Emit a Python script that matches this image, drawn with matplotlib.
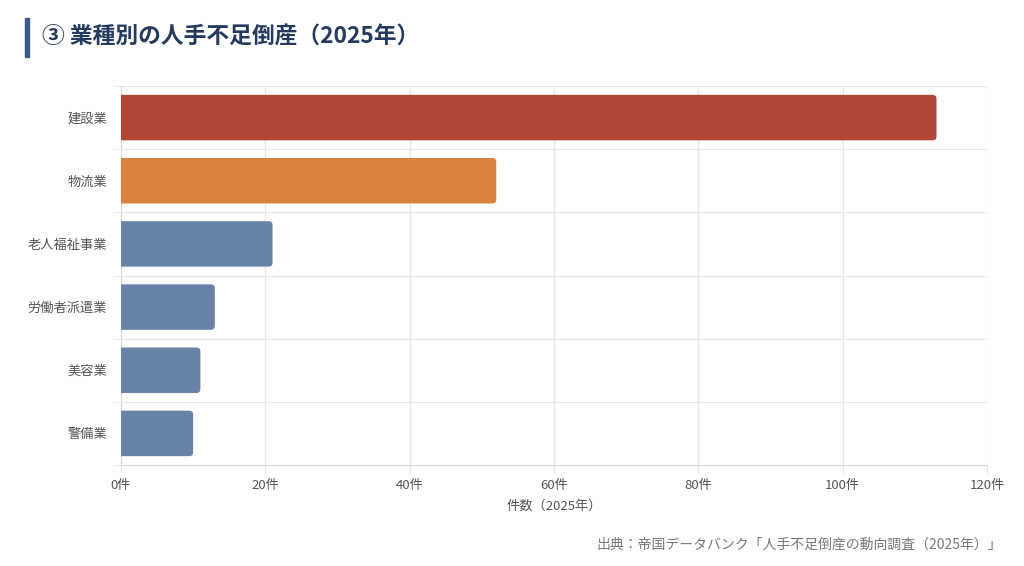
import matplotlib
matplotlib.use("Agg")
import matplotlib.pyplot as plt
from matplotlib.patches import FancyBboxPatch, Rectangle

plt.rcParams['font.family'] = ['Noto Sans CJK JP', 'DejaVu Sans']

categories = ["建設業", "物流業", "老人福祉事業", "労働者派遣業", "美容業", "警備業"]
values = [113, 52, 21, 13, 11, 10]
colors = ["#B34537", "#D8843E", "#6882A8", "#6882A8", "#6882A8", "#6882A8"]
xticks = [0, 20, 40, 60, 80, 100, 120]
xticklabels = ["0件", "20件", "40件", "60件", "80件", "100件", "120件"]
title = "③ 業種別の人手不足倒産（2025年）"
xlabel = "件数（2025年）"
source = "出典：帝国データバンク「人手不足倒産の動向調査（2025年）」"

fig = plt.figure(figsize=(10.24, 5.66), dpi=100)
ax = fig.add_axes([121/1024, 1-465/566, (987-121)/1024, (465-86)/566])

n = len(categories)
ypos = list(range(n))
bars = ax.barh(ypos, values, height=0.72, color=colors)
ax.set_xlim(0, 120)
ax.set_ylim(n - 0.5, -0.5)

# px per unit
px_x = (987-121)/120
px_y = (465-86)/n
aspect = px_x / px_y
for b, c in zip(bars, colors):
    b.set_visible(False)
    x0, y0 = b.get_x(), b.get_y()
    w, h = b.get_width(), b.get_height()
    r = 4 / px_x
    p = FancyBboxPatch((x0 - 2, y0), w + 2, h,
                       boxstyle=f"round,pad=0,rounding_size={r}",
                       mutation_aspect=aspect,
                       facecolor=c, edgecolor="none", zorder=3)
    ax.add_patch(p)

ax.set_xticks(xticks)
ax.set_xticklabels(xticklabels)
ax.set_yticks(ypos)
ax.set_yticklabels(categories)
ax.set_yticks([i - 0.5 for i in range(n + 1)], minor=True)
ax.grid(True, axis='x', color="#e6e6e6", linewidth=0.9, zorder=0)
ax.grid(True, axis='y', which='minor', color="#e6e6e6", linewidth=0.9, zorder=0)
ax.tick_params(axis='y', which='major', length=0, pad=10, labelsize=9.5, labelcolor="#555555")
ax.tick_params(axis='y', which='minor', length=6, color="#e6e6e6")
ax.tick_params(axis='x', length=6, color="#e6e6e6", pad=4, labelsize=9.5, labelcolor="#555555")
for s in ["top", "right"]:
    ax.spines[s].set_visible(False)
ax.spines["left"].set_color("#d8d8d8")
ax.spines["bottom"].set_color("#d8d8d8")
ax.set_axisbelow(True)
ax.set_xlabel(xlabel, fontsize=9.5, color="#555555", labelpad=6)

fig.patches.append(Rectangle((25/1024, 1-57/566), 4/1024, 39/566,
                             transform=fig.transFigure, color="#3A5A8C", figure=fig))
fig.text(42/1024, 1-37/566, title, fontsize=16.4, fontweight='bold', color="#243A5E",
         va='center', ha='left')
fig.text(1002/1024, 1-545/566, source, fontsize=10, color="#777777", va='center', ha='right')

fig.savefig("out.png", dpi=100, facecolor="white")
